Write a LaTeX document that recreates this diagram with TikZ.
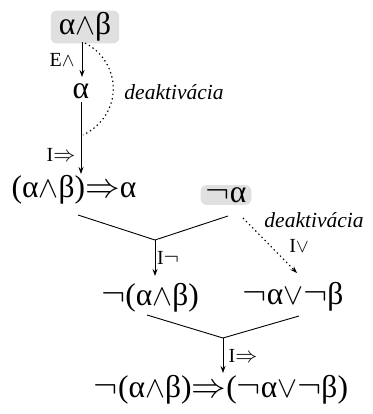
\RequirePackage{fix-cm}
\documentclass[tikz,border=0pt]{standalone}
\usepackage{fontspec}
\setmainfont{Liberation Serif}
\usetikzlibrary{arrows.meta}
\makeatletter
\newcommand{\scaledop}[2]{{\fontsize{\fpeval{\f@size*#1}}{\fpeval{\f@size*#1}}\selectfont$#2$}}
\makeatother
\newcommand{\opAnd}{\scaledop{0.95}{\wedge}}
\newcommand{\opOr}{\scaledop{0.95}{\vee}}
\newcommand{\opNot}{\scaledop{1.15}{\neg}}
\newcommand{\opImp}{\scaledop{1.1}{\Rightarrow}}
\definecolor{hypgray}{RGB}{224,224,224}
\tikzset{
  form/.style={inner sep=0pt, font=\fontsize{31.5}{33}\selectfont},
  hyp/.style={form, fill=hypgray, rounded corners=6pt, inner xsep=5pt, inner ysep=2pt},
  rulelbl/.style={inner sep=0pt, font=\fontsize{20}{22}\selectfont},
  deak/.style={inner sep=0pt, font=\fontsize{21.5}{23}\selectfont\itshape},
  arr/.style={line width=0.9pt, -{Stealth[length=7pt,width=5pt]}},
  branch/.style={line width=0.9pt},
  dots/.style={line width=1.1pt, dash pattern=on 1.4pt off 3pt},
}
\begin{document}
\begin{tikzpicture}[x=1pt,y=-1pt]
\useasboundingbox (0,0) rectangle (372,414);
% formulas
\node[hyp, inner xsep=8pt] (ab) at (85,27) {α\opAnd β};
\node[form] (a) at (81,91) {α};
\node[form] (imp1) at (74,190) {(α\opAnd β)\opImp α};
\node[hyp] (na) at (226,195) {\opNot α};
\node[form] (nab) at (150,298) {\opNot(α\opAnd β)};
\node[form] (naonb) at (293,297) {\opNot α\opOr\opNot β};
\node[form] (fin) at (221,390) {\opNot(α\opAnd β)\opImp(\opNot α\opOr\opNot β)};
% helper coordinates
\coordinate (ab-s) at (82,42);
\coordinate (a-top) at (82,77);
\coordinate (a-bot) at (81,102);
\coordinate (imp1-top) at (81,174);
\coordinate (j1) at (155,240);
\coordinate (l1a) at (78,215);
\coordinate (l1b) at (228,216);
\coordinate (nab-top) at (155,276);
\coordinate (dstart) at (243,218);
\coordinate (naonb-top) at (297,273);
\coordinate (j2) at (223,338);
\coordinate (l2a) at (147,315);
\coordinate (l2b) at (299,316);
\coordinate (fin-top) at (223,373);
\coordinate (arcA) at (85,43);
\coordinate (arcB) at (83,135);
% connectors
\draw[arr] (ab-s) -- (a-top);
\draw[arr] (a-bot) -- (imp1-top);
\draw[dots] (arcA) .. controls (122,62) and (124,115) .. (arcB);
\draw[branch] (l1a) -- (j1) -- (l1b);
\draw[arr] (j1) -- (nab-top);
\draw[arr, dots] (dstart) -- (naonb-top);
\draw[branch] (l2a) -- (j2) -- (l2b);
\draw[arr] (j2) -- (fin-top);
% labels
\node[rulelbl] (lE) at (62,60) {E\opAnd};
\node[rulelbl] (lI1) at (61,155) {I\opImp};
\node[deak] (d1) at (174,92) {deaktivácia};
\node[rulelbl] (lIn) at (168,258) {I\opNot};
\node[deak] (d2) at (314,220) {deaktivácia};
\node[rulelbl] (lIo) at (299,246) {I\opOr};
\node[rulelbl] (lI2) at (243,356) {I\opImp};
\end{tikzpicture}
\end{document}
